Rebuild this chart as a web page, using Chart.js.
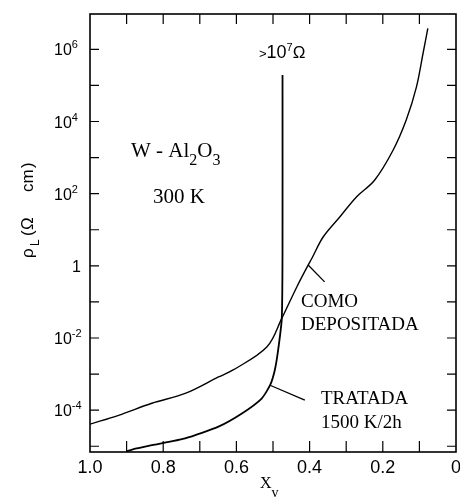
<!DOCTYPE html>
<html>
<head>
<meta charset="utf-8">
<script src="https://cdn.jsdelivr.net/npm/chart.js@4"></script>
<style>
  html, body { margin: 0; padding: 0; background: #fff; }
</style>
</head>
<body>
<canvas id="rhoChart" width="460" height="498"></canvas>
<script>
// x_v and rho_L (ohm cm)
const comoX = [1.0, 0.922, 0.831, 0.740, 0.649, 0.609, 0.517, 0.476, 0.435, 0.404, 0.394, 0.363, 0.317, 0.272, 0.222, 0.172, 0.136, 0.108, 0.090, 0.077];
const comoRho = [4.1e-5, 7.2e-5, 1.55e-4, 2.9e-4, 8.3e-4, 1.3e-3, 5.6e-3, 3.5e-2, 0.26, 1.05, 1.6, 6.3, 23, 81, 240, 1.6e3, 1.1e4, 9.1e4, 7.8e5, 3.8e6];

const tratadaX = [0.90, 0.885, 0.831, 0.740, 0.649, 0.585, 0.531, 0.508, 0.495, 0.486, 0.476, 0.474, 0.474];
const tratadaRho = [7.2e-6, 8.1e-6, 1.07e-5, 1.66e-5, 3.5e-5, 8.1e-5, 2.1e-4, 4.9e-4, 1.3e-3, 4.6e-3, 3.5e-2, 2.8, 1.95e5];

// leader lines from the labels to the curves
const comoPointerX = [0.404, 0.359];
const comoPointerRho = [1.05, 0.36];
const tratadaPointerX = [0.508, 0.413];
const tratadaPointerRho = [4.9e-4, 1.9e-4];

// axis ticks
const xLabelValues = [1.0, 0.8, 0.6, 0.4, 0.2, 0];
const xLabels = ["1.0", "0.8", "0.6", "0.4", "0.2", "0"];
const xMinorTicks = [0.1, 0.2, 0.3, 0.4, 0.5, 0.6, 0.7, 0.8, 0.9];
const yDecades = [-5, -4, -3, -2, -1, 0, 1, 2, 3, 4, 5, 6];
const yLabelExps = [-4, -2, 0, 2, 4, 6];

const serif = "'Liberation Serif', 'Times New Roman', serif";
const sans = "'Liberation Sans', Arial, sans-serif";

function toPoints(xs, ys) {
  return xs.map((x, i) => ({ x: x, y: ys[i] }));
}

// draw text pieces one after another (for sub/superscripts)
function drawRuns(ctx, x, y, family, runs) {
  runs.forEach((r) => {
    ctx.font = r.size + "px " + family;
    ctx.fillText(r.t, x, y + (r.dy || 0));
    x += ctx.measureText(r.t).width;
  });
}

const framePlugin = {
  id: "framePlugin",
  afterDatasetsDraw(chart) {
    const { ctx, chartArea, scales } = chart;
    const { left, right, top, bottom } = chartArea;
    const x = scales.x;
    const y = scales.y;
    ctx.save();
    ctx.strokeStyle = "#000";
    ctx.fillStyle = "#000";
    ctx.lineWidth = 1.6;
    ctx.strokeRect(left, top, right - left, bottom - top);

    // inward ticks on all four sides
    ctx.lineWidth = 1.2;
    ctx.beginPath();
    xMinorTicks.forEach((v) => {
      const px = x.getPixelForValue(v);
      ctx.moveTo(px, bottom);
      ctx.lineTo(px, bottom - 11);
      ctx.moveTo(px, top);
      ctx.lineTo(px, top + 10);
    });
    yDecades.forEach((e) => {
      const py = y.getPixelForValue(Math.pow(10, e));
      ctx.moveTo(left, py);
      ctx.lineTo(left + 9, py);
      ctx.moveTo(right, py);
      ctx.lineTo(right - 9, py);
    });
    ctx.stroke();

    // y tick labels with exponents
    ctx.textAlign = "left";
    ctx.textBaseline = "alphabetic";
    yLabelExps.forEach((e) => {
      const py = y.getPixelForValue(Math.pow(10, e));
      if (e === 0) {
        ctx.font = "16px " + sans;
        ctx.fillText("1", 72, py + 6);
      } else {
        drawRuns(ctx, 54, py + 6, sans, [
          { t: "10", size: 16 },
          { t: e < 0 ? "-" + Math.abs(e) : String(e), size: 11, dy: -7 },
        ]);
      }
    });

    // y axis title, rotated; pieces placed along the axis
    ctx.save();
    ctx.translate(33, 258);
    ctx.rotate(-Math.PI / 2);
    ctx.font = "17px " + sans;
    ctx.fillText("\u03c1", 0, 0);
    ctx.fillText("(", 22, 0);
    ctx.fillText("\u03a9", 28, 0);
    ctx.fillText("cm", 66, 0);
    ctx.fillText(")", 90, 0);
    ctx.font = "12px " + sans;
    ctx.fillText("L", 12, 6);
    ctx.restore();

    // x axis title
    drawRuns(ctx, 260, 488, serif, [
      { t: "X", size: 16 },
      { t: "v", size: 14, dy: 9 },
    ]);

    // annotations
    drawRuns(ctx, 131, 157, serif, [
      { t: "W - Al", size: 21 },
      { t: "2", size: 16, dy: 8 },
      { t: "O", size: 21 },
      { t: "3", size: 16, dy: 8 },
    ]);
    ctx.font = "21px " + serif;
    ctx.fillText("300 K", 153, 203);

    ctx.font = "19px " + serif;
    ctx.fillText("COMO", 301, 307);
    ctx.fillText("DEPOSITADA", 301, 330);
    ctx.fillText("TRATADA", 321, 404);
    ctx.fillText("1500 K/2h", 321, 428);

    drawRuns(ctx, 259, 58, sans, [
      { t: ">", size: 13 },
      { t: "10", size: 18 },
      { t: "7", size: 11, dy: -7 },
      { t: "\u03a9", size: 17 },
    ]);
    ctx.restore();
  },
};

const ctx = document.getElementById("rhoChart").getContext("2d");

const rhoChart = new Chart(ctx, {
  type: "line",
  data: {
    datasets: [
      {
        label: "COMO DEPOSITADA",
        data: toPoints(comoX, comoRho),
        borderColor: "#000",
        borderWidth: 1.4,
        pointRadius: 0,
        tension: 0.35,
        fill: false,
      },
      {
        label: "TRATADA 1500 K/2h",
        data: toPoints(tratadaX, tratadaRho),
        borderColor: "#000",
        borderWidth: 1.8,
        pointRadius: 0,
        tension: 0.2,
        fill: false,
      },
      {
        label: "como pointer",
        data: toPoints(comoPointerX, comoPointerRho),
        borderColor: "#000",
        borderWidth: 1.3,
        pointRadius: 0,
        fill: false,
      },
      {
        label: "tratada pointer",
        data: toPoints(tratadaPointerX, tratadaPointerRho),
        borderColor: "#000",
        borderWidth: 1.3,
        pointRadius: 0,
        fill: false,
      },
    ],
  },
  options: {
    responsive: false,
    animation: false,
    layout: {
      padding: { top: 14, left: 0, right: 4, bottom: 0 },
    },
    plugins: {
      legend: { display: false },
      tooltip: { enabled: false },
    },
    scales: {
      x: {
        type: "linear",
        min: 0,
        max: 1,
        reverse: true,
        grid: { display: false, drawTicks: false },
        border: { display: false },
        afterBuildTicks: (scale) => {
          scale.ticks = xLabelValues.map((v) => ({ value: v }));
        },
        afterFit: (scale) => {
          scale.height = 46;
          scale.paddingRight = 0;
        },
        ticks: {
          autoSkip: false,
          maxRotation: 0,
          padding: 5,
          color: "#000",
          font: { family: sans, size: 18 },
          callback: (v) => xLabels[xLabelValues.indexOf(v)],
        },
      },
      y: {
        type: "logarithmic",
        min: Math.pow(10, -5.16),
        max: Math.pow(10, 6.98),
        grid: { display: false, drawTicks: false },
        border: { display: false },
        ticks: { display: false },
        afterFit: (scale) => {
          scale.width = 90;
        },
      },
    },
  },
  plugins: [framePlugin],
});
</script>
</body>
</html>
